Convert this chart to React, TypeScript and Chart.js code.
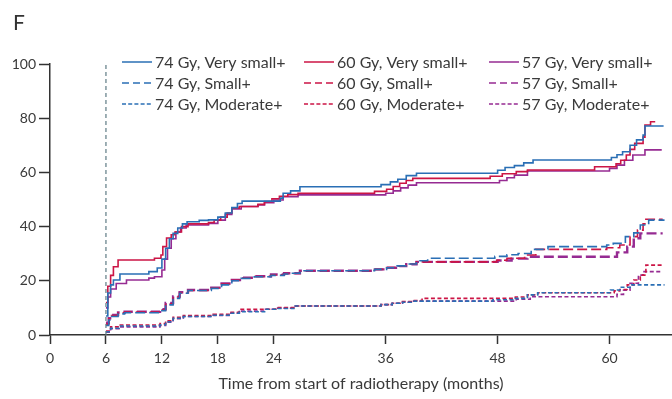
import React, { useEffect, useRef } from "react";
import { Chart, registerables } from "chart.js";

Chart.register(...registerables);

type P = [number, number];

const xTicks = [0, 6, 12, 18, 24, 36, 48, 60];
const yTicks = [0, 20, 40, 60, 80, 100];
const panelLabel = "F";
const xTitle = "Time from start of radiotherapy (months)";
const landmark: P[] = [[6, 0], [6, 100]];

const blueVerySmall: P[] = [[6,7],[6.2,15.5],[6.5,18.5],[6.8,20.3],[7.5,22.5],[10.6,23.4],[11.5,24.7],[12,28],[12.4,32],[12.8,35.5],[13.2,37.5],[13.7,39.5],[14.2,41],[14.7,41.8],[16,42.3],[17,42.5],[18,43.5],[18.8,45],[19.5,47],[20.1,48.5],[20.6,49.4],[24.7,50.5],[25,52.3],[25.8,53.2],[26.8,54.7],[35.5,55.5],[36.5,56.5],[37.3,57.5],[38.2,58.8],[39.3,59.7],[48,60.8],[48.8,61.8],[49.8,62.5],[50.8,63.5],[51.8,64.6],[60.2,65.5],[60.8,66.5],[61.4,67.6],[62.2,70],[62.9,72],[63.6,73.8],[63.8,77.1],[65.8,77.1]];
const redVerySmall: P[] = [[6,12],[6.2,18],[6.5,22],[6.8,25.2],[7.3,27.7],[11.2,28.3],[11.9,29.5],[12.1,32.6],[12.5,35.8],[13,37],[13.4,38],[14.1,40],[14.8,41],[17,41.5],[17.6,42.4],[18.3,43.5],[19,45],[19.5,46.8],[20.3,47.4],[22.3,48.2],[23,49.2],[23.8,50.3],[24.6,51.2],[25.5,51.8],[26.6,52.3],[34.8,53],[36.1,53.8],[36.8,54.8],[37.5,56],[38.2,57],[38.9,57.8],[47.2,58.6],[48.5,59.5],[50,60.3],[51.2,60.9],[58.4,62.1],[60.7,63.2],[61.2,64.5],[61.8,66.4],[62.2,68.5],[62.7,70.7],[63.6,73],[63.8,77.5],[64.4,78.7],[64.9,78.7]];
const purpleVerySmall: P[] = [[6,10],[6.2,14],[6.5,17],[7.1,19],[8.2,20.3],[10.6,21],[11.2,21.5],[12,24],[12.3,28],[12.6,32],[13,35.5],[13.5,38],[14,39.5],[14.6,40.6],[17,41.2],[18,42.4],[18.8,44.5],[19.5,46.5],[20.5,47.4],[22.3,48],[23,48.8],[24,49.8],[25,51],[26.6,51.7],[36,52.3],[36.8,53.2],[37.6,54.3],[38.4,55.3],[39.3,56.2],[48.2,57],[49,58],[49.8,59],[51.2,60.5],[60,61.5],[60.8,62.7],[61.6,64.5],[62.5,66.4],[63.8,68.3],[65.6,68.3]];

const blueSmall: P[] = [[6,3.5],[6.3,5.5],[6.6,6.8],[7.3,7.8],[8,8.2],[11.8,9],[12.4,11.1],[13.2,13.5],[13.9,15.4],[14.8,16.4],[17.3,17.2],[18.4,18.5],[19.5,20],[20.5,20.9],[21.9,21.5],[23.7,22],[25.1,22.5],[25.7,22.8],[26.8,23.7],[34.8,24.2],[36.1,24.8],[37.1,25.5],[38.2,26.2],[39.3,27.4],[40.5,28.3],[47.7,29],[49,29.6],[50.2,30.1],[51.6,31.6],[53.4,32.6],[59.7,33.2],[60.4,33.8],[61.7,36.3],[62.6,37.7],[63.3,40.6],[64.2,42.4],[65.9,42.4]];
const redSmall: P[] = [[6,4],[6.3,6],[6.6,7.2],[7.3,8.2],[8,8.5],[11.8,9.3],[12.4,11.5],[13.2,14],[13.9,15.6],[14.8,16.4],[17.3,17.4],[18.4,18.8],[19.5,20.2],[20.5,21],[21.9,21.6],[23.7,22.2],[25.1,22.7],[26.8,23.7],[34.8,24.2],[36.1,24.9],[37.1,25.5],[38.2,26.2],[39.3,27],[47.9,27.6],[49,28.3],[50.9,29.5],[52.1,31.6],[59.7,32.2],[61.1,33.2],[62.2,36.3],[63,38.7],[63.6,41],[63.9,42.7],[65.7,42.7]];
const purpleSmall: P[] = [[6,4.5],[6.3,6.2],[6.6,7.4],[7.3,8.3],[8,8.6],[11.8,9.5],[12.4,11.8],[13.2,14.2],[13.9,15.8],[14.8,16.6],[17.3,17.5],[18.4,19],[19.5,20.3],[20.5,21.1],[21.9,21.7],[23.7,22.3],[25.1,22.8],[26.8,23.7],[34.8,24.2],[36.1,24.8],[37.1,25.4],[38.2,26.1],[39.3,27],[48,27.5],[49.5,28.2],[51.2,28.9],[60.8,30.5],[61.9,32.6],[62.6,35.7],[63.3,37.5],[65.7,37.5]];

const blueModerate: P[] = [[6,1.2],[6.5,2.5],[7.4,3.3],[11.8,3.8],[12.4,4.9],[13.2,6.2],[14.3,6.8],[17.5,7.3],[19.2,8],[20.3,8.6],[23.1,9.5],[24.2,9.8],[26.3,10.7],[35.5,11.2],[36.7,11.7],[37.8,12.1],[38.9,12.5],[47.5,13],[49.9,13.5],[51.2,14.8],[52.3,15.6],[60.1,16.6],[61.1,17.6],[62.4,18.5],[65.9,18.5]];
const redModerate: P[] = [[6,1.5],[6.5,3],[7.4,3.7],[11.8,4.2],[12.4,5.2],[13.2,6.5],[14.3,7.2],[17.5,7.6],[19.2,8.4],[20.3,9.5],[24.2,10.1],[26.3,10.7],[35.5,11.2],[36.7,11.7],[37.8,12.3],[38.9,12.7],[39.9,13.5],[49.9,14],[51.2,14.8],[52.3,15.6],[60.5,16.3],[61.1,16.8],[61.9,18.5],[62.6,20.3],[63.3,22.1],[63.9,25.8],[65.7,25.8]];
const purpleModerate: P[] = [[6,1],[6.5,2.3],[7.4,3],[11.8,3.5],[12.4,4.7],[13.2,6],[14.3,6.8],[17.5,7.2],[19.2,8],[20.3,8.8],[23.1,9.5],[24.2,9.9],[26.3,10.7],[35.5,11.2],[36.7,11.7],[37.8,12.1],[38.9,12.5],[47.5,12.5],[50,13.2],[51.5,14.1],[60.8,15],[61.5,16.5],[62.2,19.1],[63.1,22.1],[63.6,23.4],[65.7,23.4]];

const seriesLabels = [
  "74 Gy, Very small+", "60 Gy, Very small+", "57 Gy, Very small+",
  "74 Gy, Small+", "60 Gy, Small+", "57 Gy, Small+",
  "74 Gy, Moderate+", "60 Gy, Moderate+", "57 Gy, Moderate+",
];
const seriesData: P[][] = [
  blueVerySmall, redVerySmall, purpleVerySmall,
  blueSmall, redSmall, purpleSmall,
  blueModerate, redModerate, purpleModerate,
];

const BLUE = "#2a6fb5";
const RED = "#cc1545";
const PURPLE = "#962b92";
const colors = [BLUE, RED, PURPLE];
const dashes: number[][] = [[], [10, 4], [4, 2.5]];
const FONT = "Lato";
const TEXT = "#3a3a3a";
const AXIS = "#333333";

const legendCols = [122, 304, 489];
const legendRows = [62, 83, 104];

const legendPlugin = {
  id: "gridLegend",
  afterDraw(chart: any) {
    const ctx = chart.ctx;
    ctx.save();
    ctx.font = `16px ${FONT}`;
    ctx.textBaseline = "middle";
    ctx.textAlign = "left";
    for (let r = 0; r < 3; r++) {
      for (let c = 0; c < 3; c++) {
        const x = legendCols[c];
        const y = legendRows[r];
        ctx.strokeStyle = colors[c];
        ctx.lineWidth = 1.5;
        ctx.setLineDash(r === 1 ? [7, 4] : r === 2 ? [4, 2.2] : []);
        ctx.beginPath();
        ctx.moveTo(x, y);
        ctx.lineTo(x + 30, y);
        ctx.stroke();
        ctx.setLineDash([]);
        ctx.fillStyle = TEXT;
        ctx.fillText(seriesLabels[r * 3 + c], x + 33, y + 1);
      }
    }
    ctx.font = `21px ${FONT}`;
    ctx.fillStyle = "#333";
    ctx.textBaseline = "alphabetic";
    ctx.fillText(panelLabel, 13, 30);
    ctx.restore();
  },
};

export default function App() {
  const ref = useRef<HTMLCanvasElement>(null);
  useEffect(() => {
    document.body.style.margin = "0";
    const canvas = ref.current!;
    const datasets: any[] = seriesData.map((d, i) => ({
      label: seriesLabels[i],
      data: d.map(([x, y]) => ({ x, y })),
      borderColor: colors[i % 3],
      borderDash: dashes[Math.floor(i / 3)],
      borderWidth: i === 5 ? 2.4 : 1.6,
      pointRadius: 0,
      stepped: true,
      fill: false,
    }));
    datasets.unshift({
      label: "landmark",
      data: landmark.map(([x, y]) => ({ x, y })),
      borderColor: "#5f7c85",
      borderDash: [4, 3],
      borderWidth: 1.2,
      pointRadius: 0,
      fill: false,
    });
    const chart = new Chart(canvas, {
      type: "line",
      data: { datasets },
      plugins: [legendPlugin],
      options: {
        responsive: false,
        animation: false,
        layout: { padding: { top: 64, right: 0, left: 0, bottom: 0 } },
        plugins: { legend: { display: false }, tooltip: { enabled: false } },
        scales: {
          x: {
            type: "linear",
            min: 0,
            max: 66.7,
            afterBuildTicks: (s: any) => { s.ticks = xTicks.map((v) => ({ value: v })); },
            afterFit: (s: any) => { s.height = 64; },
            ticks: { autoSkip: false, maxRotation: 0, color: TEXT, font: { family: FONT, size: 14 }, padding: 6 },
            grid: { display: true, drawOnChartArea: false, drawTicks: true, tickLength: 9, tickColor: AXIS, tickWidth: 1.5 },
            border: { display: true, color: AXIS, width: 1.5 },
            title: { display: true, text: xTitle, color: TEXT, font: { family: FONT, size: 16 }, padding: { top: 0, bottom: 6 } },
          },
          y: {
            min: 0,
            max: 100,
            afterBuildTicks: (s: any) => { s.ticks = yTicks.map((v) => ({ value: v })); },
            afterFit: (s: any) => { s.width = 50; },
            ticks: { color: TEXT, font: { family: FONT, size: 14 }, padding: 3 },
            grid: { display: true, drawOnChartArea: false, drawTicks: true, tickLength: 11, tickColor: AXIS, tickWidth: 1.5 },
            border: { display: true, color: AXIS, width: 1.5 },
          },
        },
      },
    } as any);
    return () => chart.destroy();
  }, []);
  return (
    <div style={{ width: 672, height: 399 }}>
      <canvas ref={ref} width={672} height={399} style={{ display: "block" }} />
    </div>
  );
}
